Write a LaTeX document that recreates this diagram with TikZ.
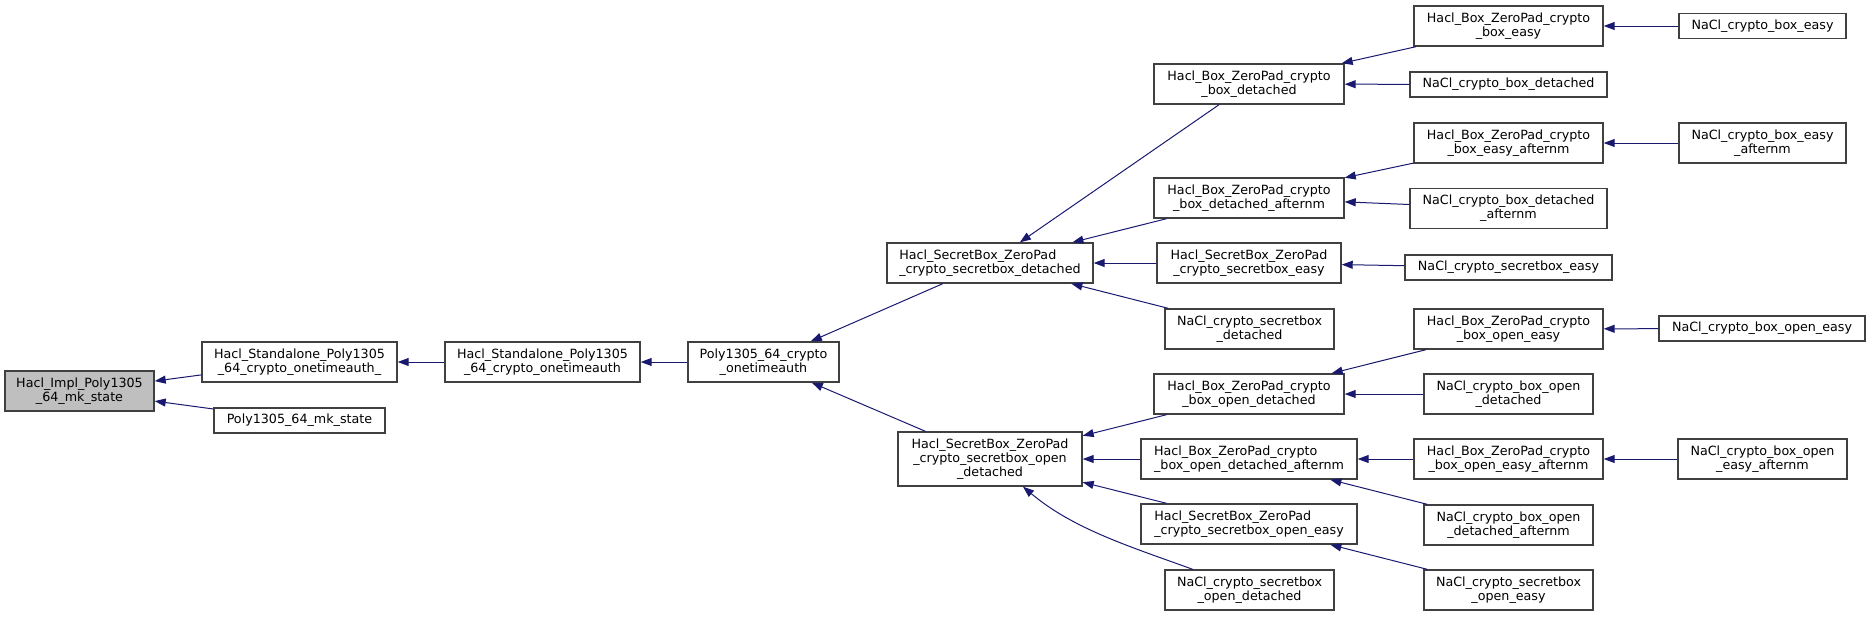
\documentclass[tikz,border=0pt]{standalone}
\usepackage{fontspec}
\setmainfont{DejaVu Sans}
\usetikzlibrary{arrows.meta}
\definecolor{edgeblue}{HTML}{191970}
\definecolor{boxline}{HTML}{404040}

\begin{document}
\begin{tikzpicture}[x=1pt, y=-1pt,
    fn/.style={draw=boxline, line width=1.4pt, fill=white, inner sep=0pt, minimum height=40pt, align=center, font=\fontsize{12.7}{14}\selectfont},
    lone/.style={minimum height=25pt},
    edge/.style={edgeblue, line width=1pt, {Triangle[length=11pt,width=8pt]}-}]
    \useasboundingbox (0,0) rectangle (1871,616);
    % first levels
    \node[fn, fill=black!25, minimum width=149pt] (impl) at (79.5,391) {Hacl\_Impl\_Poly1305\\\_64\_mk\_state};
    \node[fn, minimum width=195pt] (sau) at (299.5,362) {Hacl\_Standalone\_Poly1305\\\_64\_crypto\_onetimeauth\_};
    \node[fn, lone, minimum width=171pt] (mks) at (299.5,420.5) {Poly1305\_64\_mk\_state};
    \node[fn, minimum width=195pt] (sa) at (542.5,362) {Hacl\_Standalone\_Poly1305\\\_64\_crypto\_onetimeauth};
    \node[fn, minimum width=151pt] (pcot) at (763.5,362) {Poly1305\_64\_crypto\\\_onetimeauth};
    \node[fn, align=left, minimum width=206pt] (sbd) at (990,263) {Hacl\_SecretBox\_ZeroPad\\\_crypto\_secretbox\_detached};
    \node[fn, minimum width=184pt, minimum height=54pt] (sbod) at (990,459) {Hacl\_SecretBox\_ZeroPad\\\_crypto\_secretbox\_open\\\_detached};
    % third column
    \node[fn, minimum width=190pt] (bd) at (1249,84) {Hacl\_Box\_ZeroPad\_crypto\\\_box\_detached};
    \node[fn, minimum width=190pt] (bda) at (1249,198) {Hacl\_Box\_ZeroPad\_crypto\\\_box\_detached\_afternm};
    \node[fn, minimum width=184pt] (sbe) at (1249,263) {Hacl\_SecretBox\_ZeroPad\\\_crypto\_secretbox\_easy};
    \node[fn, minimum width=169pt] (nsbd) at (1249.5,329) {NaCl\_crypto\_secretbox\\\_detached};
    \node[fn, minimum width=190pt] (bod) at (1249,394) {Hacl\_Box\_ZeroPad\_crypto\\\_box\_open\_detached};
    \node[fn, align=left, minimum width=216pt] (boda) at (1249,459) {Hacl\_Box\_ZeroPad\_crypto\\\_box\_open\_detached\_afternm};
    \node[fn, align=left, minimum width=216pt] (sboe) at (1249,524) {Hacl\_SecretBox\_ZeroPad\\\_crypto\_secretbox\_open\_easy};
    \node[fn, minimum width=169pt] (nsbod) at (1249.5,590) {NaCl\_crypto\_secretbox\\\_open\_detached};
    % fourth column
    \node[fn, minimum width=189pt] (be) at (1508.5,26) {Hacl\_Box\_ZeroPad\_crypto\\\_box\_easy};
    \node[fn, lone, minimum width=197pt] (nbd) at (1508.5,84.5) {NaCl\_crypto\_box\_detached};
    \node[fn, minimum width=189pt] (bea) at (1508.5,143) {Hacl\_Box\_ZeroPad\_crypto\\\_box\_easy\_afternm};
    \node[fn, minimum width=197pt] (nbda) at (1508.5,208.5) {NaCl\_crypto\_box\_detached\\\_afternm};
    \node[fn, lone, minimum width=207pt] (nsbe) at (1508.5,267.5) {NaCl\_crypto\_secretbox\_easy};
    \node[fn, minimum width=189pt] (boe) at (1508.5,329) {Hacl\_Box\_ZeroPad\_crypto\\\_box\_open\_easy};
    \node[fn, minimum width=169pt] (nbod) at (1508.5,394) {NaCl\_crypto\_box\_open\\\_detached};
    \node[fn, minimum width=189pt] (boea) at (1508.5,459) {Hacl\_Box\_ZeroPad\_crypto\\\_box\_open\_easy\_afternm};
    \node[fn, minimum width=169pt] (nboda) at (1508.5,525) {NaCl\_crypto\_box\_open\\\_detached\_afternm};
    \node[fn, minimum width=169pt] (nsboe) at (1508.5,590) {NaCl\_crypto\_secretbox\\\_open\_easy};
    % last column
    \node[fn, lone, minimum width=167pt] (nbe) at (1762.5,26) {NaCl\_crypto\_box\_easy};
    \node[fn, minimum width=167pt] (nbea) at (1762.5,143) {NaCl\_crypto\_box\_easy\\\_afternm};
    \node[fn, lone, minimum width=206pt] (nboe) at (1762,328.5) {NaCl\_crypto\_box\_open\_easy};
    \node[fn, minimum width=169pt] (nboea) at (1762.5,459) {NaCl\_crypto\_box\_open\\\_easy\_afternm};
    % callers
    \draw[edge] (impl) -- (sau);
    \draw[edge] (impl) -- (mks);
    \draw[edge] (sau) -- (sa);
    \draw[edge] (sa) -- (pcot);
    \draw[edge] (pcot) -- (sbd);
    \draw[edge] (pcot) -- (sbod);
    \draw[edge] (sbd) -- (bd);
    \draw[edge] (sbd) -- (bda);
    \draw[edge] (sbd) -- (sbe);
    \draw[edge] (sbd) -- (nsbd);
    \draw[edge] (sbod) -- (bod);
    \draw[edge] (sbod) -- (boda);
    \draw[edge] (sbod) -- (sboe);
    \draw[edge] (sbod) to[out=-40, in=160, looseness=0.9] (nsbod);
    \draw[edge] (bd) -- (be);
    \draw[edge] (bd) -- (nbd);
    \draw[edge] (bda) -- (bea);
    \draw[edge] (bda) -- (nbda);
    \draw[edge] (sbe) -- (nsbe);
    \draw[edge] (bod) -- (boe);
    \draw[edge] (bod) -- (nbod);
    \draw[edge] (boda) -- (boea);
    \draw[edge] (boda) -- (nboda);
    \draw[edge] (sboe) -- (nsboe);
    \draw[edge] (be) -- (nbe);
    \draw[edge] (bea) -- (nbea);
    \draw[edge] (boe) -- (nboe);
    \draw[edge] (boea) -- (nboea);
\end{tikzpicture}
\end{document}
